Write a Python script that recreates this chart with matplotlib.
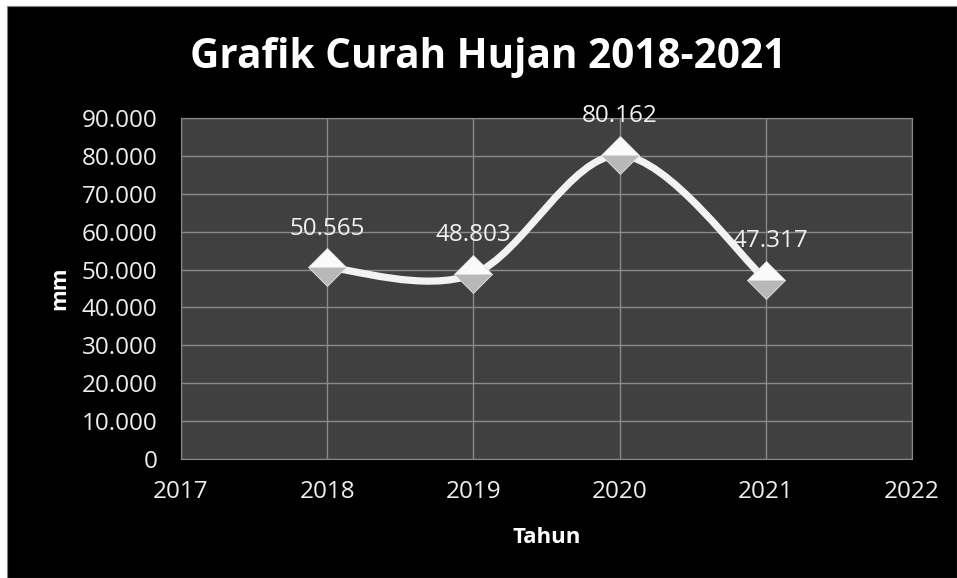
import numpy as np
import matplotlib
matplotlib.use("Agg")
import matplotlib.pyplot as plt
from matplotlib.path import Path
from matplotlib.patches import PathPatch, Rectangle

years = [2018, 2019, 2020, 2021]
rainfall = [50565, 48803, 80162, 47317]
labels = ["50.565", "48.803", "80.162", "47.317"]
yticks = [0, 10000, 20000, 30000, 40000, 50000, 60000, 70000, 80000, 90000]
ytick_labels = ["0", "10.000", "20.000", "30.000", "40.000", "50.000",
                "60.000", "70.000", "80.000", "90.000"]
xticks = [2017, 2018, 2019, 2020, 2021, 2022]

plt.rcParams["font.family"] = ["Open Sans", "DejaVu Sans"]

W, H = 957, 578
fig = plt.figure(figsize=(W / 100, H / 100), dpi=100, facecolor="white")
# black chart area with thin white margin top/left
fig.patches.append(Rectangle((7 / W, 0), 1 - 7 / W, 1 - 6 / H,
                             transform=fig.transFigure, facecolor="black",
                             edgecolor="#808080", lw=0.8, zorder=-1))

ax = fig.add_axes([181 / W, 1 - 459 / H, (912 - 181) / W, (459 - 118) / H])
ax.set_facecolor("#404040")
ax.set_xlim(2017, 2022)
ax.set_ylim(0, 90000)
ax.set_xticks(xticks)
ax.set_xticklabels([str(x) for x in xticks])
ax.set_yticks(yticks)
ax.set_yticklabels(ytick_labels)
ax.grid(True, color="#8a8a8a", lw=1)
ax.set_axisbelow(True)
for s in ax.spines.values():
    s.set_color("#8a8a8a")
ax.tick_params(length=0, colors="#eeeeee", labelsize=17.5)
ax.tick_params(axis="x", pad=15)
ax.tick_params(axis="y", pad=17)


def smooth_path(xs, ys):
    # Excel-like smoothed line: Catmull-Rom as cubic Bezier segments
    pts = np.column_stack([xs, ys]).astype(float)
    verts = [pts[0]]
    codes = [Path.MOVETO]
    n = len(pts)
    for i in range(n - 1):
        p0 = pts[i - 1] if i > 0 else pts[i]
        p1, p2 = pts[i], pts[i + 1]
        p3 = pts[i + 2] if i + 2 < n else pts[i + 1]
        c1 = p1 + (p2 - p0) / 6
        c2 = p2 - (p3 - p1) / 6
        verts += [c1, c2, p2]
        codes += [Path.CURVE4] * 3
    return Path(verts, codes)


ax.add_patch(PathPatch(smooth_path(years, rainfall), facecolor="none",
                       edgecolor="#f2f2f2", lw=5.2, capstyle="round",
                       joinstyle="round", zorder=3))
ax.plot(years, rainfall, ls="none", marker="D", ms=19, fillstyle="top",
        mfc="#fafafa", markerfacecoloralt="#b8b8b8", mec="#e0e0e0", mew=0.6,
        zorder=4)

offsets = [(0, 28), (0, 28), (0, 28), (3, 28)]
for x, y, t, (dx, dy) in zip(years, rainfall, labels, offsets):
    ax.annotate(t, (x, y), xytext=(dx, dy), textcoords="offset points",
                ha="center", va="center", color="#f0f0f0", fontsize=17.5,
                zorder=5)

ax.set_xlabel("Tahun", color="white", fontsize=16, fontweight="bold",
              labelpad=17)
ax.set_ylabel("mm", color="white", fontsize=16, fontweight="bold",
              labelpad=8)

fig.text(488 / W, 1 - 58 / H, "Grafik Curah Hujan 2018-2021", color="white",
         fontsize=29.2, fontweight="bold", ha="center", va="center")

fig.savefig("out.png", dpi=100, facecolor="white")
